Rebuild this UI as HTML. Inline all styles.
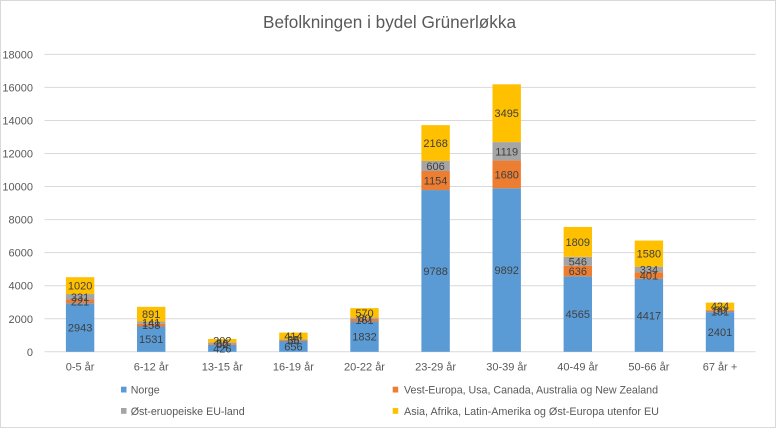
<!DOCTYPE html>
<html><head><meta charset="utf-8"><style>
html,body{margin:0;padding:0;background:#fff;}
svg{display:block;}
text{font-family:"Liberation Sans",sans-serif;}
</style></head><body>
<svg width="777" height="429" viewBox="0 0 777 429" xmlns="http://www.w3.org/2000/svg">
<rect x="0.5" y="0.5" width="775" height="427" fill="#fff" stroke="#D9D9D9" stroke-width="1"/>
<text x="389.5" y="28" font-size="17.5" fill="#595959" text-anchor="middle" textLength="253" lengthAdjust="spacingAndGlyphs">Befolkningen i bydel Grünerløkka</text>
<g stroke="#D9D9D9" stroke-width="1">
<line x1="44.5" x2="755.7" y1="351.8" y2="351.8"/>
<line x1="44.5" x2="755.7" y1="318.75" y2="318.75"/>
<line x1="44.5" x2="755.7" y1="285.7" y2="285.7"/>
<line x1="44.5" x2="755.7" y1="252.65" y2="252.65"/>
<line x1="44.5" x2="755.7" y1="219.6" y2="219.6"/>
<line x1="44.5" x2="755.7" y1="186.55" y2="186.55"/>
<line x1="44.5" x2="755.7" y1="153.5" y2="153.5"/>
<line x1="44.5" x2="755.7" y1="120.45" y2="120.45"/>
<line x1="44.5" x2="755.7" y1="87.4" y2="87.4"/>
<line x1="44.5" x2="755.7" y1="54.35" y2="54.35"/>
</g>
<g font-size="11" fill="#595959" text-anchor="end">
<text x="33" y="355.8">0</text>
<text x="33" y="322.75">2000</text>
<text x="33" y="289.7">4000</text>
<text x="33" y="256.65">6000</text>
<text x="33" y="223.6">8000</text>
<text x="33" y="190.55">10000</text>
<text x="33" y="157.5">12000</text>
<text x="33" y="124.45">14000</text>
<text x="33" y="91.4">16000</text>
<text x="33" y="58.35">18000</text>
</g>
<!-- bars -->
<g>
<rect x="65.9" y="303.17" width="28.4" height="48.63" fill="#5B9BD5"/>
<rect x="65.9" y="299.52" width="28.4" height="3.65" fill="#ED7D31"/>
<rect x="65.9" y="294.05" width="28.4" height="5.47" fill="#A5A5A5"/>
<rect x="65.9" y="277.19" width="28.4" height="16.86" fill="#FFC000"/>

<rect x="137.0" y="326.5" width="28.4" height="25.3" fill="#5B9BD5"/>
<rect x="137.0" y="323.89" width="28.4" height="2.61" fill="#ED7D31"/>
<rect x="137.0" y="321.56" width="28.4" height="2.33" fill="#A5A5A5"/>
<rect x="137.0" y="306.84" width="28.4" height="14.72" fill="#FFC000"/>

<rect x="208.1" y="344.76" width="28.4" height="7.04" fill="#5B9BD5"/>
<rect x="208.1" y="343.4" width="28.4" height="1.36" fill="#ED7D31"/>
<rect x="208.1" y="342.31" width="28.4" height="1.09" fill="#A5A5A5"/>
<rect x="208.1" y="338.97" width="28.4" height="3.34" fill="#FFC000"/>

<rect x="279.2" y="340.96" width="28.4" height="10.84" fill="#5B9BD5"/>
<rect x="279.2" y="340.03" width="28.4" height="0.93" fill="#ED7D31"/>
<rect x="279.2" y="339.45" width="28.4" height="0.58" fill="#A5A5A5"/>
<rect x="279.2" y="332.61" width="28.4" height="6.84" fill="#FFC000"/>

<rect x="350.3" y="321.53" width="28.4" height="30.27" fill="#5B9BD5"/>
<rect x="350.3" y="318.87" width="28.4" height="2.66" fill="#ED7D31"/>
<rect x="350.3" y="317.55" width="28.4" height="1.32" fill="#A5A5A5"/>
<rect x="350.3" y="308.13" width="28.4" height="9.42" fill="#FFC000"/>

<rect x="421.4" y="190.05" width="28.4" height="161.75" fill="#5B9BD5"/>
<rect x="421.4" y="170.98" width="28.4" height="19.07" fill="#ED7D31"/>
<rect x="421.4" y="160.97" width="28.4" height="10.01" fill="#A5A5A5"/>
<rect x="421.4" y="125.14" width="28.4" height="35.83" fill="#FFC000"/>

<rect x="492.5" y="188.33" width="28.4" height="163.47" fill="#5B9BD5"/>
<rect x="492.5" y="160.57" width="28.4" height="27.76" fill="#ED7D31"/>
<rect x="492.5" y="142.08" width="28.4" height="18.49" fill="#A5A5A5"/>
<rect x="492.5" y="84.32" width="28.4" height="57.76" fill="#FFC000"/>

<rect x="563.6" y="276.36" width="28.4" height="75.44" fill="#5B9BD5"/>
<rect x="563.6" y="265.85" width="28.4" height="10.51" fill="#ED7D31"/>
<rect x="563.6" y="256.83" width="28.4" height="9.02" fill="#A5A5A5"/>
<rect x="563.6" y="226.94" width="28.4" height="29.89" fill="#FFC000"/>

<rect x="634.7" y="278.81" width="28.4" height="72.99" fill="#5B9BD5"/>
<rect x="634.7" y="272.18" width="28.4" height="6.63" fill="#ED7D31"/>
<rect x="634.7" y="266.66" width="28.4" height="5.52" fill="#A5A5A5"/>
<rect x="634.7" y="240.55" width="28.4" height="26.11" fill="#FFC000"/>

<rect x="705.8" y="312.12" width="28.4" height="39.68" fill="#5B9BD5"/>
<rect x="705.8" y="310.62" width="28.4" height="1.5" fill="#ED7D31"/>
<rect x="705.8" y="309.65" width="28.4" height="0.97" fill="#A5A5A5"/>
<rect x="705.8" y="302.64" width="28.4" height="7.01" fill="#FFC000"/>
</g>
<!-- data labels -->
<g font-size="11" fill="#404040" text-anchor="middle">
<text x="80.1" y="331.5">2943</text>
<text x="80.1" y="305.3">221</text>
<text x="80.1" y="300.8">331</text>
<text x="80.1" y="289.6">1020</text>

<text x="151.2" y="343.1">1531</text>
<text x="151.2" y="329.2">158</text>
<text x="151.2" y="326.7">141</text>
<text x="151.2" y="318.2">891</text>

<text x="222.3" y="352.3">426</text>
<text x="222.3" y="348.1">82</text>
<text x="222.3" y="346.9">66</text>
<text x="222.3" y="344.6">202</text>

<text x="293.4" y="350.4">656</text>
<text x="293.4" y="344.5">56</text>
<text x="293.4" y="343.7">35</text>
<text x="293.4" y="340.0">414</text>

<text x="364.5" y="340.7">1832</text>
<text x="364.5" y="324.2">161</text>
<text x="364.5" y="322.2">80</text>
<text x="364.5" y="316.8">570</text>

<text x="435.6" y="274.9">9788</text>
<text x="435.6" y="184.5">1154</text>
<text x="435.6" y="170.0">606</text>
<text x="435.6" y="147.1">2168</text>

<text x="506.7" y="274.1">9892</text>
<text x="506.7" y="178.5">1680</text>
<text x="506.7" y="155.3">1119</text>
<text x="506.7" y="117.2">3495</text>

<text x="577.8" y="318.1">4565</text>
<text x="577.8" y="275.1">636</text>
<text x="577.8" y="265.3">546</text>
<text x="577.8" y="245.9">1809</text>

<text x="648.9" y="319.3">4417</text>
<text x="648.9" y="279.5">401</text>
<text x="648.9" y="273.4">334</text>
<text x="648.9" y="257.6">1580</text>

<text x="720.0" y="336.0">2401</text>
<text x="720.0" y="315.4">151</text>
<text x="720.0" y="314.1">59</text>
<text x="720.0" y="310.1">424</text>
</g>
<!-- x labels -->
<g font-size="11" fill="#595959" text-anchor="middle">
<text x="80.1" y="370.5">0-5 år</text>
<text x="151.2" y="370.5">6-12 år</text>
<text x="222.3" y="370.5">13-15 år</text>
<text x="293.4" y="370.5">16-19 år</text>
<text x="364.5" y="370.5">20-22 år</text>
<text x="435.6" y="370.5">23-29 år</text>
<text x="506.7" y="370.5">30-39 år</text>
<text x="577.8" y="370.5">40-49 år</text>
<text x="648.9" y="370.5">50-66 år</text>
<text x="720.0" y="370.5">67 år +</text>
</g>
<!-- legend -->
<rect x="121" y="386.7" width="5.5" height="5.8" fill="#5B9BD5"/>
<rect x="392.7" y="386.7" width="5.5" height="5.8" fill="#ED7D31"/>
<rect x="121" y="408" width="5.5" height="5.8" fill="#A5A5A5"/>
<rect x="392.7" y="408" width="5.5" height="5.8" fill="#FFC000"/>
<g font-size="11" fill="#595959">
<text x="130.7" y="393.5" textLength="29" lengthAdjust="spacingAndGlyphs">Norge</text>
<text x="404" y="393.5" textLength="254" lengthAdjust="spacingAndGlyphs">Vest-Europa, Usa, Canada, Australia og New Zealand</text>
<text x="130.7" y="414.8" textLength="114" lengthAdjust="spacingAndGlyphs">Øst-eruopeiske EU-land</text>
<text x="404" y="414.8" textLength="255" lengthAdjust="spacingAndGlyphs">Asia, Afrika, Latin-Amerika og Øst-Europa utenfor EU</text>
</g>
</svg>
</body></html>
